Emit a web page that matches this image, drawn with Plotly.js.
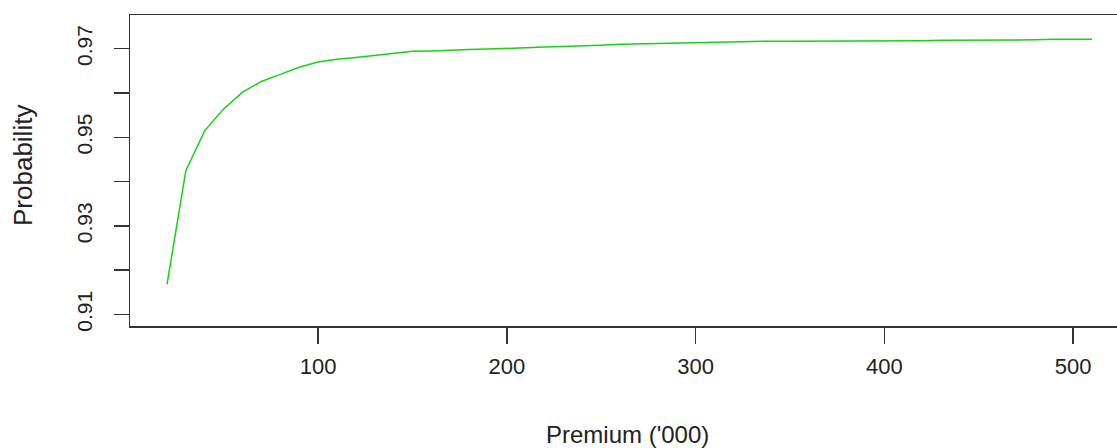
<!DOCTYPE html>
<html>
<head>
<meta charset="utf-8">
<script src="https://cdn.plot.ly/plotly-3.0.1.min.js"></script>
<style>html,body{margin:0;padding:0;background:#fff;}#chart{width:1117px;height:448px;}</style>
</head>
<body>
<div id="chart"></div>
<script>
// Premium ('000)
var premium = [20,30,40,50,60,70,80,90,100,110,120,130,140,150,160,170,180,190,200,
  210,220,230,240,250,260,270,280,290,300,310,320,330,340,350,360,370,380,390,400,
  410,420,430,440,450,460,470,480,490,500,510];
// Probability
var probability = [0.9168,0.9425,0.9515,0.9564,0.9602,0.9626,0.9642,0.9658,0.9670,0.9676,
  0.9680,0.9685,0.9690,0.9694,0.9695,0.9697,0.9698,0.9699,0.9700,
  0.9702,0.9704,0.9705,0.9707,0.9708,0.9710,0.9711,0.9712,0.9713,0.9714,0.9714,0.9715,
  0.9716,0.9717,0.9717,0.9717,0.9717,0.9717,0.9717,0.9718,
  0.9718,0.9718,0.9719,0.9719,0.9720,0.9720,0.9720,0.9720,0.9721,0.9721,0.9721];
var xTickVals = [100,200,300,400,500];
var xTickText = ['100','200','300','400','500'];
var yTickVals = [0.91,0.92,0.93,0.94,0.95,0.96,0.97];
var yTickText = ['0.91','','0.93','','0.95','','0.97'];
var xTitle = "Premium ('000)";
var yTitle = "Probability";

var font = 'Liberation Sans, Arial, sans-serif';
var trace = {
  x: premium, y: probability, type: 'scatter', mode: 'lines',
  line: {color: '#11d611', width: 1.5}, hoverinfo: 'none'
};
var layout = {
  width: 1117, height: 448,
  margin: {l: 130, r: 0, t: 15, b: 122, pad: 0},
  paper_bgcolor: '#fff', plot_bgcolor: '#fff',
  showlegend: false,
  font: {family: font, color: '#222', size: 21},
  xaxis: {
    range: [0.4, 523.2], showgrid: false, zeroline: false,
    showline: true, mirror: true, linecolor: '#333', linewidth: 1.5,
    ticks: 'outside', ticklen: 16, tickwidth: 1.5, tickcolor: '#333',
    tickvals: xTickVals, ticktext: xTickText, ticklabelstandoff: 4,
    tickfont: {family: font, size: 22, color: '#222'}
  },
  yaxis: {
    range: [0.9074, 0.9776], showgrid: false, zeroline: false,
    showline: true, mirror: false, linecolor: '#333', linewidth: 1.5,
    ticks: 'outside', ticklen: 15, tickwidth: 1.5, tickcolor: '#333',
    tickvals: yTickVals, ticktext: yTickText, tickangle: -90, ticklabelstandoff: 13,
    tickfont: {family: font, size: 21, color: '#222'}
  },
  annotations: [
    {text: xTitle, xref: 'paper', yref: 'paper', x: (627 - 130) / 987, y: 0,
     xanchor: 'center', yanchor: 'middle', yshift: -108, showarrow: false,
     font: {family: font, size: 24, color: '#222'}},
    {text: yTitle, xref: 'paper', yref: 'paper', x: 0, y: (326 - 166) / 311,
     xanchor: 'center', yanchor: 'middle', xshift: -107, textangle: -90, showarrow: false,
     font: {family: font, size: 26, color: '#222'}}
  ]
};
Plotly.newPlot('chart', [trace], layout, {staticPlot: true, displayModeBar: false});
</script>
</body>
</html>
